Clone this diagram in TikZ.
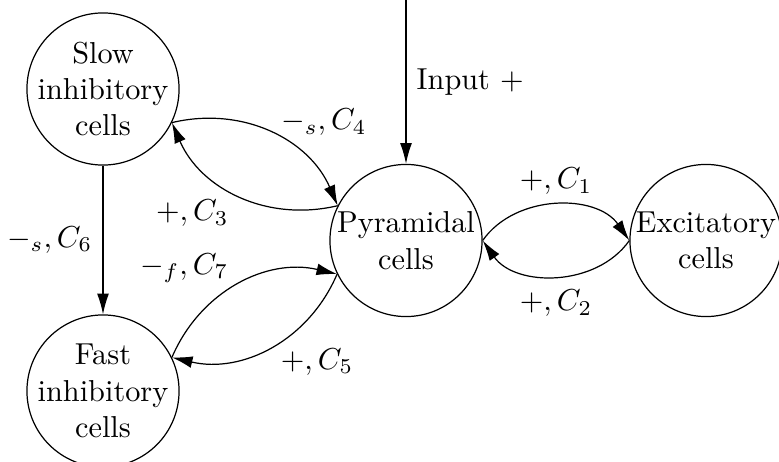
\documentclass[tikz,border=0pt]{standalone}
\usetikzlibrary{arrows.meta}

\begin{document}
\begin{tikzpicture}[
    x=0.33pt, y=0.33pt,
    cellNode/.style={circle, draw, minimum size=50.2pt, inner sep=-1.5pt, align=center},
    arrow/.style={-{Latex[length=6.8pt, width=3.9pt]}}
  ]
  \useasboundingbox (0,0) rectangle (779,-462);

  % Cells
  \node[cellNode] (slow) at (103,-89) {Slow\\inhibitory\\cells};
  \node[cellNode] (fast) at (103,-391) {Fast\\inhibitory\\cells};
  \node[cellNode] (pyr) at (406,-240.5) {Pyramidal\\cells};
  \node[cellNode] (exc) at (706,-240.5) {Excitatory\\cells};
  \coordinate (input) at (406,0);

  % Arrows
  \draw[arrow] (input) -- node[right] (inputLabel) {Input $+$} (pyr);
  \draw[arrow] (slow) -- node[left] (c6Label) {$-_s, C_6$} (fast);

  \draw[arrow] (slow.-26.6) to[bend left=40] node[above right, yshift=-4.5pt] (c4Label) {$-_s, C_4$} (pyr.153.4);
  \draw[arrow] (pyr.153.4) to[bend left=40] node[below left, yshift=2pt] (c3Label) {$+, C_3$} (slow.-26.6);

  \draw[arrow] (fast.26.4) to[bend left=40] node[above left, yshift=-3pt] (c7Label) {$-_f, C_7$} (pyr.206.4);
  \draw[arrow] (pyr.206.4) to[bend left=40] node[below right, yshift=3pt] (c5Label) {$+, C_5$} (fast.26.4);

  \draw[arrow] (pyr.east) to[bend left=55] node[above] (c1Label) {$+, C_1$} (exc.west);
  \draw[arrow] (exc.west) to[bend left=55] node[below, yshift=-1.3pt] (c2Label) {$+, C_2$} (pyr.east);

\end{tikzpicture}
\end{document}
